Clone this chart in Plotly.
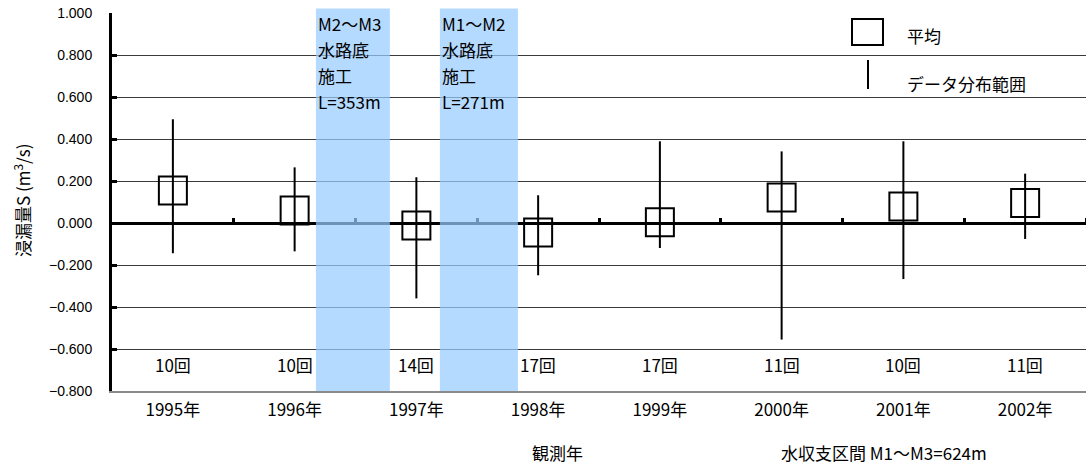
import plotly.graph_objects as go

# ---------------- data ----------------
years = ["1995年", "1996年", "1997年", "1998年", "1999年", "2000年", "2001年", "2002年"]
mean_vals = [0.155, 0.060, -0.012, -0.045, 0.004, 0.121, 0.079, 0.095]
max_vals = [0.494, 0.265, 0.218, 0.132, 0.389, 0.341, 0.389, 0.235]
min_vals = [-0.144, -0.135, -0.359, -0.249, -0.119, -0.555, -0.267, -0.076]
counts = ["10回", "10回", "14回", "17回", "17回", "11回", "10回", "11回"]
band_texts = [["M2～M3", "水路底", "施工", "L=353m"],
              ["M1～M2", "水路底", "施工", "L=271m"]]
y_ticks = [-0.8, -0.6, -0.4, -0.2, 0.0, 0.2, 0.4, 0.6, 0.8, 1.0]

# ---------------- layout geometry ----------------
W, H = 1086, 465
ML, MR, MT, MB = 112, 0, 13, 74
PW, PH = W - ML - MR, H - MT - MB
Y_MIN, Y_MAX = -0.8, 1.0
X_RANGE = [-0.5, len(years) - 0.5]

def pxx(px):
    return (px - ML) / PW

def pxy(py):
    return (H - MB - py) / PH

def cat2paper(c):
    return (c - X_RANGE[0]) / (X_RANGE[1] - X_RANGE[0])

JP = "Noto Sans CJK JP"

fig = go.Figure()

fig.add_trace(go.Scatter(
    x=years, y=mean_vals, mode="markers",
    marker=dict(symbol="square-open", size=28, color="black",
                line=dict(width=2, color="black")),
    error_y=dict(type="data", symmetric=False,
                 array=[mx - m for mx, m in zip(max_vals, mean_vals)],
                 arrayminus=[m - mn for m, mn in zip(mean_vals, min_vals)],
                 width=0, thickness=2, color="black"),
    showlegend=False, hoverinfo="skip",
))

# helper trace for boundary ticks on the zero line
fig.add_trace(go.Scatter(x=[0], y=[None], xaxis="x2", yaxis="y", mode="markers",
                         showlegend=False, hoverinfo="skip"))

shapes = []
annotations = []

# shaded construction bands (in category units)
band_spans = [(1.175, 1.782), (2.193, 2.834)]
for (c0, c1), lines in zip(band_spans, band_texts):
    x0, x1 = cat2paper(c0), cat2paper(c1)
    shapes.append(dict(type="rect", xref="paper", yref="paper",
                       x0=x0, x1=x1, y0=0, y1=pxy(8.5),
                       fillcolor="rgba(153,204,255,0.72)",
                       line=dict(width=0), layer="above"))
    for i, t in enumerate(lines):
        annotations.append(dict(xref="paper", yref="paper", x=x0, y=pxy(23 + 26.3 * i),
                                xanchor="left", yanchor="middle", text=t,
                                showarrow=False, font=dict(family=JP, size=17, color="black")))

# counts
for yr, c in zip(years, counts):
    annotations.append(dict(xref="x", yref="y", x=yr, y=-0.675, text=c,
                            showarrow=False, xanchor="center", yanchor="middle",
                            font=dict(family=JP, size=17, color="black")))

# legend (drawn manually)
shapes.append(dict(type="rect", xref="paper", yref="paper",
                   x0=pxx(852), x1=pxx(883), y0=pxy(45), y1=pxy(19),
                   line=dict(color="black", width=2), fillcolor="rgba(0,0,0,0)"))
shapes.append(dict(type="line", xref="paper", yref="paper",
                   x0=pxx(868), x1=pxx(868), y0=pxy(89), y1=pxy(60),
                   line=dict(color="black", width=2)))
annotations.append(dict(xref="paper", yref="paper", x=pxx(905), y=pxy(35),
                        xanchor="left", yanchor="middle", text="平均", showarrow=False,
                        font=dict(family=JP, size=17, color="black")))
annotations.append(dict(xref="paper", yref="paper", x=pxx(905), y=pxy(83),
                        xanchor="left", yanchor="middle", text="データ分布範囲", showarrow=False,
                        font=dict(family=JP, size=17, color="black")))

# y title
annotations.append(dict(xref="paper", yref="paper", x=pxx(22), y=pxy(201),
                        xanchor="center", yanchor="middle", textangle=-90,
                        text="浸漏量S (m<sup>3</sup>/s)", showarrow=False,
                        font=dict(family=JP, size=17, color="black")))

# bottom captions
annotations.append(dict(xref="paper", yref="paper", x=pxx(557), y=pxy(452),
                        xanchor="center", yanchor="middle", text="観測年", showarrow=False,
                        font=dict(family=JP, size=17, color="black")))
annotations.append(dict(xref="paper", yref="paper", x=pxx(779), y=pxy(452),
                        xanchor="left", yanchor="middle", text="水収支区間 M1～M3=624m",
                        showarrow=False, font=dict(family=JP, size=17, color="black")))

fig.update_layout(
    width=W, height=H,
    margin=dict(l=ML, r=MR, t=MT, b=MB, pad=0),
    paper_bgcolor="white", plot_bgcolor="white",
    showlegend=False,
    xaxis=dict(type="category", range=X_RANGE, showgrid=False, zeroline=False,
               showline=True, linecolor="#8a8a8a", linewidth=2, ticks="",
               tickfont=dict(family=JP, size=17, color="black"),
               ticklabelstandoff=3, fixedrange=True),
    xaxis2=dict(overlaying="x", anchor="free", position=(0 - Y_MIN) / (Y_MAX - Y_MIN),
                side="top", range=X_RANGE,
                tickvals=[i + 0.5 for i in range(len(years))],
                ticks="outside", ticklen=5, tickwidth=3, tickcolor="black",
                showticklabels=False, showgrid=False, zeroline=False, showline=False),
    yaxis=dict(range=[Y_MIN, Y_MAX], tickvals=y_ticks, tickformat=".3f",
               showgrid=True, gridcolor="#3a3a3a", gridwidth=1,
               zeroline=True, zerolinecolor="black", zerolinewidth=3,
               showline=True, linecolor="black", linewidth=3,
               ticks="inside", ticklen=5, tickwidth=3, tickcolor="black",
               tickfont=dict(family="Liberation Sans", size=14, color="black"),
               ticklabelstandoff=14, fixedrange=True),
    shapes=shapes,
    annotations=annotations,
)

fig.write_html("out.html", config={"displayModeBar": False},
               post_script="document.body.style.margin='0px';document.body.style.overflow='hidden';")
